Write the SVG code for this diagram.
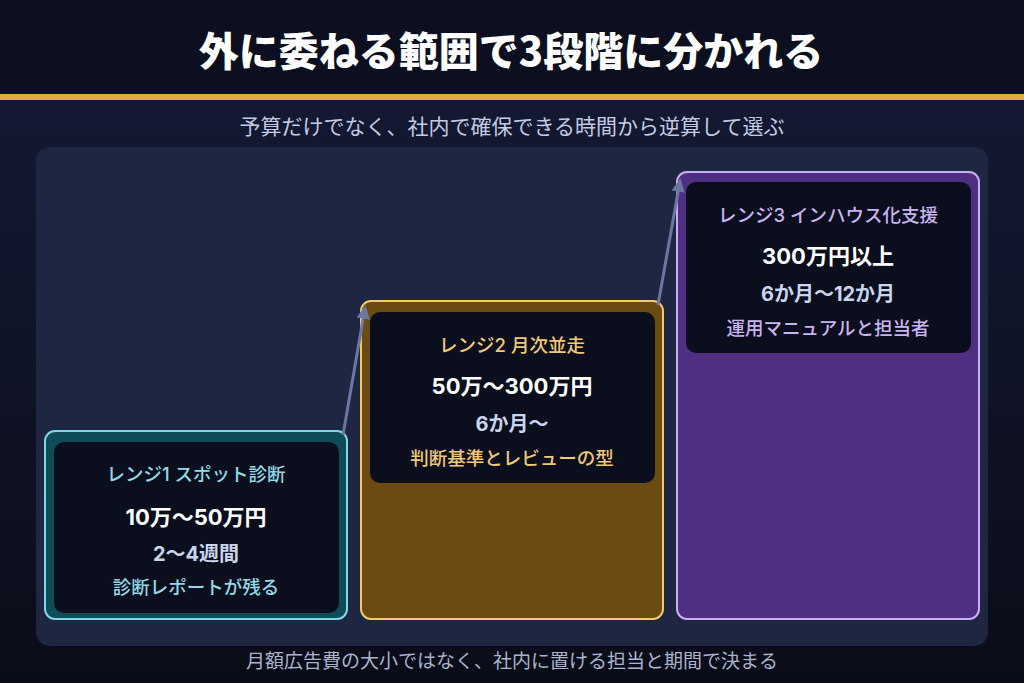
<svg xmlns="http://www.w3.org/2000/svg" width="1024" height="683" viewBox="0 0 1024 683">
  <defs>
    <linearGradient id="bg" x1="0" y1="0" x2="0" y2="1">
      <stop offset="0" stop-color="#151b37"/>
      <stop offset="1" stop-color="#0a0d18"/>
    </linearGradient>
    <marker id="ah" viewBox="0 0 10 10" refX="8" refY="5" markerWidth="4.5" markerHeight="4.5" orient="auto" markerUnits="strokeWidth">
      <path d="M0,0 L10,5 L0,10 Z" fill="#6b77a0"/>
    </marker>
    <style>
      text { font-family: Inter, "Noto Sans CJK JP", "Noto Sans", sans-serif; text-anchor: middle; }
      .title { font-family: "Noto Sans CJK JP", sans-serif; font-size: 40px; font-weight: 900; fill: #ffffff; }
      .sub { font-family: "Noto Sans CJK JP", sans-serif; font-size: 21px; fill: #c3cbe0; }
      .foot { font-family: "Noto Sans CJK JP", sans-serif; font-size: 19px; fill: #a9b4cc; }
      .inner { fill: #0b0e1c; }
      .head { font-size: 18.5px; font-weight: 500; }
      .price { font-size: 22px; font-weight: 700; fill: #ffffff; }
      .dur { font-size: 20px; font-weight: 700; fill: #c9d5ec; }
      .note { font-size: 18.5px; font-weight: 500; }
      .c1 { fill: #8fd9e6; }
      .c2 { fill: #f0c878; }
      .c3 { fill: #c9b3f0; }
      .conn { stroke: #6b77a0; stroke-width: 3; fill: none; marker-end: url(#ah); }
    </style>
  </defs>
  <rect x="0" y="0" width="1024" height="683" fill="url(#bg)"/>
  <rect x="0" y="0" width="1024" height="94" fill="#0c0f1f"/>
  <rect x="0" y="94" width="1024" height="6" fill="#e0ad42"/>
  <text class="title" x="511" y="66">外に委ねる範囲で3段階に分かれる</text>
  <text class="sub" x="512" y="134">予算だけでなく、社内で確保できる時間から逆算して選ぶ</text>
  <rect x="36" y="147" width="952" height="499" rx="14" fill="#1e2642"/>

  <g id="range1">
    <rect x="45" y="431" width="302" height="188" rx="10" fill="#0f4c57" stroke="#7fd8e8" stroke-width="2"/>
    <rect class="inner" x="54" y="442" width="285" height="171" rx="10"/>
    <text class="head c1" x="196" y="481">レンジ1 スポット診断</text>
    <text class="price" x="196" y="525">10万〜50万円</text>
    <text class="dur" x="196" y="561">2〜4週間</text>
    <text class="note c1" x="196" y="594">診断レポートが残る</text>
  </g>

  <g id="range2">
    <rect x="361" y="301" width="302" height="318" rx="10" fill="#6b4b12" stroke="#f2c96e" stroke-width="2"/>
    <rect class="inner" x="370" y="312" width="285" height="171" rx="10"/>
    <text class="head c2" x="512" y="352">レンジ2 月次並走</text>
    <text class="price" x="512" y="394">50万〜300万円</text>
    <text class="dur" x="512" y="431">6か月〜</text>
    <text class="note c2" x="512" y="465">判断基準とレビューの型</text>
  </g>

  <g id="range3">
    <rect x="677" y="172" width="302" height="447" rx="10" fill="#4f2f82" stroke="#c9aef2" stroke-width="2"/>
    <rect class="inner" x="686" y="182" width="285" height="171" rx="10"/>
    <text class="head c3" x="828" y="222">レンジ3 インハウス化支援</text>
    <text class="price" x="828" y="264">300万円以上</text>
    <text class="dur" x="828" y="301">6か月〜12か月</text>
    <text class="note c3" x="828" y="335">運用マニュアルと担当者</text>
  </g>

  <g id="connectors">
    <line class="conn" x1="343" y1="435" x2="365" y2="308"/>
    <line class="conn" x1="658" y1="305" x2="680" y2="181"/>
  </g>

  <text class="foot" x="512" y="668">月額広告費の大小ではなく、社内に置ける担当と期間で決まる</text>
</svg>
